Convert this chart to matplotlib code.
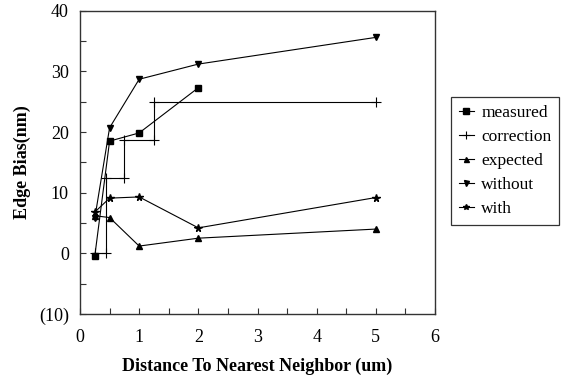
import matplotlib
matplotlib.use("Agg")
import matplotlib.pyplot as plt
from matplotlib.ticker import MultipleLocator, FuncFormatter

plt.rcParams['font.family'] = ['Liberation Serif', 'DejaVu Serif']

# Data
x_main = [0.25, 0.5, 1, 2, 5]
measured_x = [0.25, 0.5, 1, 2]
measured = [-0.45, 18.5, 19.85, 27.3]
correction_x = [0.25, 0.44, 0.44, 0.75, 0.75, 1.25, 1.25, 5]
correction = [0, 0, 12.5, 12.5, 18.75, 18.75, 25, 25]
expected = [6.2, 5.9, 1.2, 2.5, 4.0]
without = [5.8, 20.7, 28.7, 31.2, 35.6]
with_ = [6.8, 9.1, 9.3, 4.2, 9.2]

fig = plt.figure(figsize=(5.62, 3.77), dpi=100)
ax = fig.add_axes([80/562, 1-314/377, 355/562, (314-10.7)/377])

lw = 0.8
ax.plot(measured_x, measured, color='black', lw=lw, marker='s', ms=5, label='measured')
ax.plot(correction_x, correction, color='black', lw=lw, marker='+', ms=7, mew=0.8, label='correction')
ax.plot(x_main, expected, color='black', lw=lw, marker='^', ms=4.5, label='expected')
ax.plot(x_main, without, color='black', lw=lw, marker='v', ms=4.5, label='without')
ax.plot(x_main, with_, color='black', lw=lw, marker='*', ms=5.5, label='with')

ax.set_xlim(0, 6)
ax.set_ylim(-10, 40)
ax.xaxis.set_major_locator(MultipleLocator(1))
ax.xaxis.set_minor_locator(MultipleLocator(0.5))
ax.yaxis.set_major_locator(MultipleLocator(10))
ax.yaxis.set_minor_locator(MultipleLocator(5))
ax.yaxis.set_major_formatter(FuncFormatter(lambda v, p: f"({abs(int(v))})" if v < 0 else f"{int(v)}"))

ax.tick_params(which='both', direction='in', length=4, width=0.8, color='#333333',
               top=False, right=False, labelsize=13)
ax.tick_params(axis='x', which='major', pad=11)
ax.tick_params(axis='y', which='major', pad=8)
for s in ax.spines.values():
    s.set_linewidth(1.0)
    s.set_color('#333333')

ax.set_xlabel('Distance To Nearest Neighbor (um)', fontsize=13, fontweight='bold', labelpad=8)
ax.set_ylabel('Edge Bias(nm)', fontsize=13, fontweight='bold', labelpad=6)

leg = fig.legend(loc='upper left', bbox_to_anchor=(451/562, 1-97/377), borderaxespad=0,
                 frameon=True, fancybox=False, edgecolor='black', fontsize=12.5,
                 handlelength=0.85, handletextpad=0.45, labelspacing=0.45, borderpad=0.45,
                 markerscale=0.8)
leg.get_frame().set_linewidth(0.9)

fig.savefig('out.png', dpi=100)
